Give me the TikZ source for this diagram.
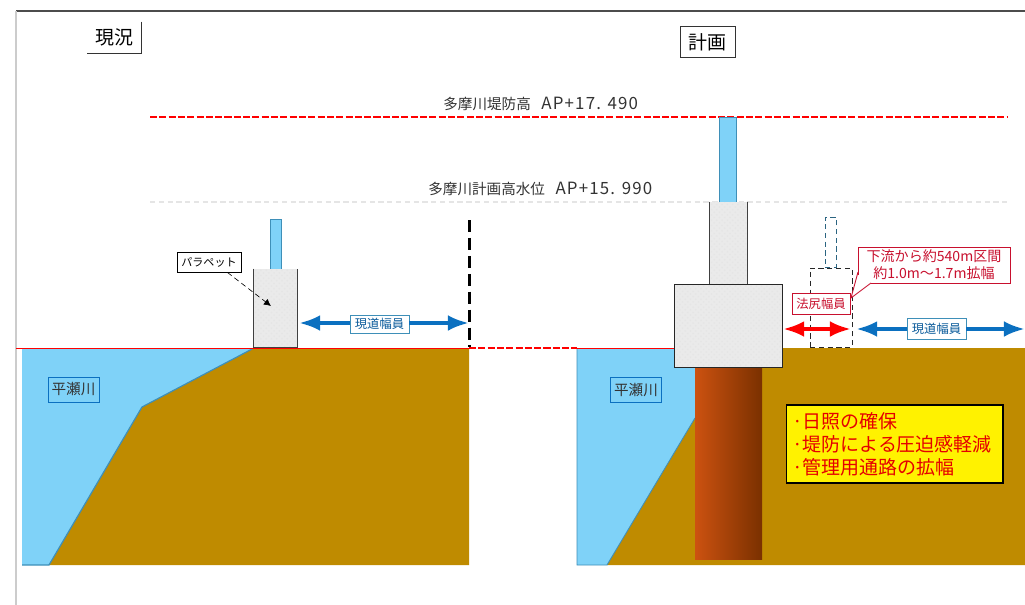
\documentclass[tikz,border=0pt]{standalone}
\usepackage{fontspec}
\setmainfont{Noto Sans CJK JP}
\usetikzlibrary{calc, positioning, patterns, arrows.meta}
\definecolor{river}{HTML}{7FD2F8}
\definecolor{riverline}{HTML}{3E8FB8}
\definecolor{soil}{HTML}{BF8B00}
\definecolor{concrete}{HTML}{EAEAEA}
\definecolor{roadblue}{HTML}{0B70C0}
\definecolor{alertred}{HTML}{FF0000}
\definecolor{calloutred}{HTML}{C8102E}
\definecolor{pileleft}{HTML}{CC5210}
\definecolor{pilemid}{HTML}{A84800}
\definecolor{pileright}{HTML}{7A3000}
\newcommand{\apfont}{\fontsize{9.6}{10}\selectfont\addfontfeatures{LetterSpace=7}}

\begin{document}
\begin{tikzpicture}[x=0.02cm, y=-0.02cm]
        \tikzset{title/.style = {inner sep=0pt, minimum height=0.62cm, font=\fontsize{10.8}{12}\selectfont}}
        \tikzset{level/.style = {inner sep=0pt, font=\fontsize{8.3}{10}\selectfont, text=black!80}}
        \tikzset{tag/.style = {draw, fill=white, inner sep=0pt, font=\fontsize{7}{8}\selectfont}}
        \tikzset{rivertag/.style = {draw=roadblue, inner sep=0pt, minimum width=1.02cm, minimum height=0.5cm, font=\fontsize{8.3}{9}\selectfont, text=black!80}}
        \tikzset{block/.style = {fill=concrete, postaction={pattern=crosshatch dots, pattern color=black!10}}}
        \tikzset{glass/.style = {draw=riverline, fill=river, line width=0.5pt}}
        \tikzset{span/.style = {line width=2.3pt}}
        \tikzset{headl/.style = {{Latex[length=12pt,width=9pt]}-}}
        \tikzset{headr/.style = {-{Latex[length=12pt,width=9pt]}}}
        \tikzset{redline/.style = {draw=alertred, line width=0.45pt}}
        \tikzset{reddash/.style = {draw=alertred, line width=0.65pt, dash pattern=on 4pt off 1.3pt}}
        \useasboundingbox (0, 0) rectangle (1025, 605);

        % frame
        \coordinate (frametl) at (16, 11);
        \coordinate (framebl) at (16, 605);
        \coordinate (frametr) at (1025, 11);
        \draw[black!70, line width=0.6pt] (frametl) to (frametr);
        \draw[black!20, line width=0.6pt] (frametl) to (framebl);

        % left section
        \fill[river] (22, 348) -- (254, 348) -- (142, 407) -- (49, 565) -- (22, 565) -- cycle;
        \fill[soil] (254, 348) -- (469, 348) -- (469, 565) -- (49, 565) -- (142, 407) -- cycle;
        \draw[riverline, line width=0.7pt] (254, 348) -- (142, 407) -- (49, 565) -- (22, 565);

        % right section
        \fill[river] (577, 348) -- (695, 348) -- (695, 418) -- (607, 565) -- (577, 565) -- cycle;
        \fill[soil] (695, 348) -- (1025, 348) -- (1025, 565) -- (607, 565) -- (695, 418) -- cycle;
        \draw[riverline, line width=0.5pt] (695, 418) -- (607, 565) -- (577, 565) -- (577, 348);

        % levels
        \coordinate (crownl) at (150, 117);
        \coordinate (crownr) at (1008, 117);
        \coordinate (floodl) at (150, 202);
        \coordinate (floodr) at (1008, 202);
        \coordinate (bankl) at (16, 348);
        \coordinate (bankm) at (469, 348);
        \coordinate (bankr) at (577, 348);
        \coordinate (bankf) at (675, 348);
        \draw[black!10, densely dashed, line width=0.6pt] (floodl) to (floodr);
        \draw[reddash] (crownl) to (crownr);
        \draw[redline] (bankl) to (bankm);
        \draw[reddash] (bankm) to (bankr);
        \draw[redline] (bankr) to (bankf);
        \node[level, anchor=west] (crownlabel) at (443, 104) {多摩川堤防高\hspace{6pt}{\apfont AP+17. 490}};
        \node[level, anchor=west] (floodlabel) at (428, 189) {多摩川計画高水位\hspace{6pt}{\apfont AP+15. 990}};

        % titles
        \node[title, minimum width=1.08cm] (now) at (114.5, 37.5) {現況};
        \draw[black!80, line width=0.5pt] (now.north east) -- (now.south east) -- (now.south west);
        \node[title, draw=black!80, line width=0.5pt, minimum width=1.1cm] (plan) at (707.5, 42) {計画};

        % existing parapet
        \node[glass, minimum width=0.22cm, minimum height=1cm, inner sep=0pt] (oldglass) at (275.5, 244) {};
        \node[block, minimum width=0.86cm, minimum height=1.56cm, inner sep=0pt] (oldwall) at (275.5, 308) {};
        \draw[black!75, line width=0.6pt] (oldwall.north west) -- (oldwall.south west) -- (oldwall.south east) -- (oldwall.north east);
        \node[tag, line width=0.5pt, minimum width=1.28cm, minimum height=0.4cm, font=\fontsize{6.3}{8}\selectfont] (parapet) at (209, 262) {パラペット};
        \coordinate (parapettip) at (271, 306);
        \draw[densely dashed, line width=0.35pt, -{Latex[length=4pt,width=4pt]}] (parapet.south east) ++(-14, 0) coordinate (parapetfoot) to (parapettip);

        % old road
        \coordinate (oldedgetop) at (469.5, 220);
        \coordinate (oldedge) at (469.5, 347);
        \draw[black, line width=1.5pt, dashed, dash pattern=on 7pt off 3.2pt] (oldedgetop) to (oldedge);
        \node[tag, draw=riverline, minimum width=1.18cm, minimum height=0.36cm, text=roadblue!80!black] (oldroad) at (379.5, 324) {現道幅員};
        \coordinate (oldroadl) at (299, 323);
        \coordinate (oldroadr) at (469, 323);
        \draw[span, roadblue, headl] (oldroadl) to (oldroad.west |- oldroadl);
        \draw[span, roadblue, headr] (oldroad.east |- oldroadr) to (oldroadr);
        \node[rivertag] (oldriver) at (73.5, 389.5) {平瀬川};

        % planned wall
        \node[glass, minimum width=0.34cm, minimum height=1.7cm, inner sep=0pt] (newglass) at (727.5, 159.5) {};
        \node[block, minimum width=0.74cm, minimum height=1.66cm, inner sep=0pt] (newwall) at (728.5, 243.5) {};
        \draw[black!75, line width=0.7pt] (newwall.north west) -- (newwall.south west);
        \draw[black!75, line width=0.7pt] (newwall.north east) -- (newwall.south east);
        \node[inner sep=0pt, minimum width=1.34cm, minimum height=3.86cm, left color=pileleft, middle color=pilemid, right color=pileright] (pile) at (728.5, 463.5) {};
        \node[block, minimum width=2.14cm, minimum height=1.64cm, inner sep=0pt] (footing) at (728.5, 326) {};
        \draw[black!85, line width=0.7pt] (footing.north west) rectangle (footing.south east);
        \node[rivertag] (newriver) at (636, 390) {平瀬川};

        % old parapet outline
        \node[draw=black!85, densely dashed, line width=0.45pt, minimum width=0.84cm, minimum height=1.58cm, inner sep=0pt] (ghostwall) at (831, 307.5) {};
        \node[draw=riverline!70!black, densely dashed, line width=0.4pt, minimum width=0.22cm, minimum height=1cm, inner sep=0pt] (ghostglass) at (830.5, 242) {};

        % road widths
        \coordinate (slopel) at (783, 329);
        \coordinate (sloper) at (851, 329);
        \coordinate (newroadl) at (856, 329);
        \coordinate (newroadr) at (1025, 329);
        \draw[span, alertred, headl] (slopel) to (817, 329);
        \draw[span, alertred, headr] (817, 329) to (sloper);
        \node[tag, draw=riverline, minimum width=1.18cm, minimum height=0.42cm, text=roadblue!80!black] (newroad) at (936.5, 329) {現道幅員};
        \draw[span, roadblue, headl] (newroadl) to (newroad);
        \draw[span, roadblue, headr] (newroad) to (newroadr);

        % widening note
        \node[tag, draw=calloutred, text=calloutred, minimum width=1.16cm, minimum height=0.42cm] (slope) at (821, 303.5) {法尻幅員};
        \node[tag, draw=calloutred, text=calloutred, align=center, minimum width=3.04cm, minimum height=0.72cm, font=\fontsize{8}{9.6}\selectfont] (note) at (934, 265) {下流から約540m区間\\約1.0m～1.7m拡幅};
        \coordinate (notetip) at (851, 298);
        \coordinate (noteleft) at (858, 272);
        \coordinate (notebase) at (871, 283);
        \fill[white] (noteleft) -- (notetip) -- (notebase) -- (note.south west) -- cycle;
        \fill[white] (note.south west) ++(-1, -8) rectangle (871, 284.5);
        \draw[calloutred, line width=0.5pt] (noteleft) -- (notetip) -- (notebase);

        % effects
        \node[draw=black, fill=yellow, line width=0.6pt, text=red!90!black, align=left, inner sep=0pt, minimum width=4.34cm, minimum height=1.56cm, text width=4.1cm, font=\fontsize{10.8}{13}\selectfont] (effects) at (894.5, 444) {·日照の確保\\·堤防による圧迫感軽減\\·管理用通路の拡幅};
\end{tikzpicture}
\end{document}
